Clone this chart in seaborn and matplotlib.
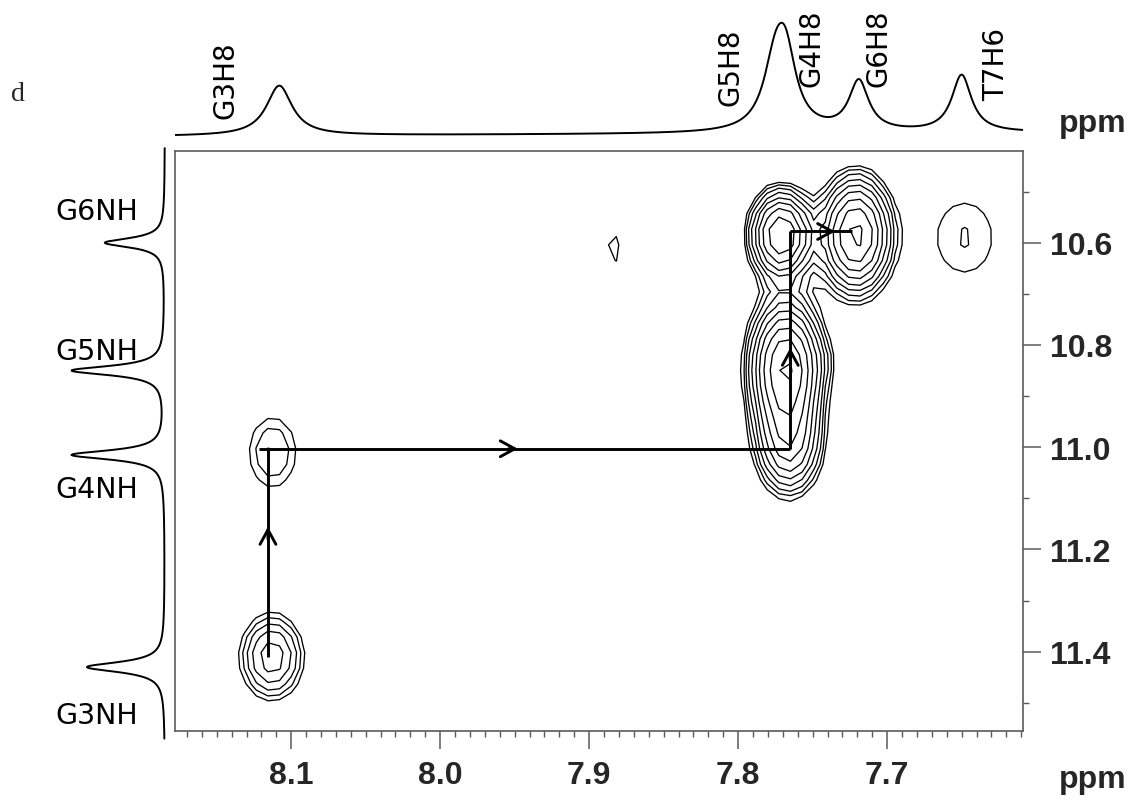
import numpy as np
import pandas as pd
import matplotlib
matplotlib.use("Agg")
import matplotlib.pyplot as plt
from matplotlib.ticker import MultipleLocator
import seaborn as sns

# ---------------------------------------------------------------------------
# Spectral window (ppm)
# ---------------------------------------------------------------------------
x_window = (8.178, 7.609)      # aromatic H8/H6 dimension (F2)
y_window = (10.42, 11.555)     # imino NH dimension (F1)

# 1D projection along the aromatic dimension
top_peak_names = ["G3H8", "G5H8", "G4H8", "G6H8", "T7H6"]
top_peak_ppm = [8.108, 7.775, 7.768, 7.719, 7.650]
top_peak_height = [50, 63, 63, 50, 57]
top_peak_fwhm = [0.021, 0.019, 0.017, 0.016, 0.016]
top_baseline = (14.5, 18.0)    # baseline level at left / right edge

# 1D projection along the imino dimension
left_peak_names = ["G6NH", "G5NH", "G4NH", "G3NH"]
left_peak_ppm = [10.600, 10.850, 11.015, 11.430]
left_peak_height = [60, 93, 93, 78]
left_peak_fwhm = [0.022, 0.022, 0.022, 0.024]
left_baseline = 10.0

# NOE cross peaks: (H8/H6 shift, NH shift, amplitude, x width, y width)
cross_x = [8.113, 8.1125, 7.766, 7.768, 7.771, 7.721, 7.648, 7.884, 7.742]
cross_y = [11.410, 11.010, 10.995, 10.845, 10.585, 10.585, 10.590, 10.610, 10.830]
cross_amp = [3.4, 1.75, 5.0, 11.0, 8.3, 8.8, 1.34, 1.10, 0.5]
cross_sx = [0.014, 0.0147, 0.013, 0.0135, 0.012, 0.0135, 0.024, 0.011, 0.006]
cross_sy = [0.055, 0.064, 0.060, 0.075, 0.050, 0.065, 0.089, 0.068, 0.030]
contour_base = 1.0
contour_factor = 1.3
n_contours = 11

# Sequential walk G3 -> G4 -> G5 -> G6 (segments and arrow-head positions)
walk_segments = [
    ((8.1156, 11.410), (8.1156, 11.003)),
    ((8.1213, 11.003), (7.7650, 11.003)),
    ((7.7650, 11.003), (7.7650, 10.578)),
    ((7.7650, 10.578), (7.7235, 10.578)),
]
walk_heads = [
    ((8.1156, 11.185), (8.1156, 11.150)),
    ((7.9560, 11.003), (7.9460, 11.003)),
    ((7.7650, 10.835), (7.7650, 10.800)),
    ((7.7420, 10.578), (7.7330, 10.578)),
]


def lorentz_sum(axis, centers, heights, fwhms, base):
    out = np.array(base, dtype=float) * np.ones_like(axis)
    for c, h, w in zip(centers, heights, fwhms):
        hw = w / 2.0
        out += h * hw ** 2 / ((axis - c) ** 2 + hw ** 2)
    return out


W, H = 1134, 803


def fx(px):
    return px / W


def fy(py):
    return 1 - py / H


sns.set_theme(style="white")
plt.rcParams["font.family"] = ["DejaVu Sans"]

fig = plt.figure(figsize=(W / 100, H / 100), dpi=100)
left_px, right_px, top_px, bottom_px = 175, 1022.7, 151.7, 732
ax = fig.add_axes([fx(left_px), fy(bottom_px), fx(right_px) - fx(left_px),
                   fy(top_px) - fy(bottom_px)])
ax_top = fig.add_axes([fx(left_px), fy(top_px), fx(right_px) - fx(left_px), 140 / H],
                      sharex=ax)
ax_left = fig.add_axes([fx(40), fy(bottom_px), 135 / W, fy(top_px) - fy(bottom_px)],
                       sharey=ax)

# ---------------------------------------------------------------------------
# 2D contour map (coarse digital resolution, as acquired)
# ---------------------------------------------------------------------------
gx = np.linspace(x_window[0], x_window[1], 74)
gy = np.linspace(y_window[0], y_window[1], 38)
X, Y = np.meshgrid(gx, gy)
Z = np.zeros_like(X)
for cx, cy, a, sx, sy in zip(cross_x, cross_y, cross_amp, cross_sx, cross_sy):
    Z += a * np.exp(-0.5 * ((X - cx) / sx) ** 2 - 0.5 * ((Y - cy) / sy) ** 2)
levels = contour_base * contour_factor ** np.arange(n_contours)
ax.contour(X, Y, Z, levels=levels, colors="black", linewidths=0.95)

for (p0, p1) in walk_segments:
    ax.plot([p0[0], p1[0]], [p0[1], p1[1]], color="black", lw=2.1,
            solid_capstyle="butt", zorder=5)
for tail, head in walk_heads:
    ax.annotate("", xy=head, xytext=tail,
                arrowprops=dict(arrowstyle="->,head_length=0.55,head_width=0.3",
                                lw=2.1, color="black", mutation_scale=19),
                zorder=6)

ax.set_xlim(*x_window)
ax.set_ylim(y_window[1], y_window[0])

frame_col = "#5a5a5a"
for side, sp in ax.spines.items():
    sp.set_visible(True)
    sp.set_color(frame_col)
    sp.set_linewidth(1.2)

ax.yaxis.tick_right()
ax.xaxis.tick_bottom()
ax.xaxis.set_major_locator(MultipleLocator(0.1))
ax.xaxis.set_minor_locator(MultipleLocator(0.01))
ax.yaxis.set_major_locator(MultipleLocator(0.2))
ax.yaxis.set_minor_locator(MultipleLocator(0.1))
ax.xaxis.set_major_formatter(plt.FuncFormatter(lambda v, p: f"{v:.1f}"))
ax.yaxis.set_major_formatter(plt.FuncFormatter(lambda v, p: f"{v:.1f}"))
ax.tick_params(axis="both", which="major", direction="out", length=13, width=1.1,
               color=frame_col, labelsize=23)
ax.tick_params(axis="both", which="minor", direction="out", length=4.5, width=1.0,
               color=frame_col)
ax.tick_params(axis="x", which="both", top=False, bottom=True, pad=8)
ax.tick_params(axis="y", which="both", left=False, right=True, pad=7)
for lab in ax.get_xticklabels() + ax.get_yticklabels():
    lab.set_fontfamily("Liberation Sans")
    lab.set_fontweight("bold")
ax.set_xlabel("")
ax.set_ylabel("")

# ---------------------------------------------------------------------------
# Top 1D trace
# ---------------------------------------------------------------------------
tx = np.linspace(x_window[0], x_window[1], 900)
tbase = np.interp(tx, [x_window[1], x_window[0]], [top_baseline[1], top_baseline[0]])
ty = lorentz_sum(tx, top_peak_ppm, top_peak_height, top_peak_fwhm, tbase)
sns.lineplot(x=tx, y=ty, ax=ax_top, color="black", lw=1.4, estimator=None)
ax_top.set_ylim(0, 140)
ax_top.axis("off")

top_label_ppm = [8.144, 7.805, 7.751, 7.706, 7.627]
top_label_base = [33, 46, 65, 65, 51]
for name, xp, yb in zip(top_peak_names, top_label_ppm, top_label_base):
    ax_top.text(xp, yb, name, rotation=90, ha="center", va="bottom",
                fontsize=20, family="DejaVu Sans", color="black")

# ---------------------------------------------------------------------------
# Left 1D trace
# ---------------------------------------------------------------------------
ly = np.linspace(10.415, 11.57, 900)
lx = lorentz_sum(ly, left_peak_ppm, left_peak_height, left_peak_fwhm, left_baseline)
sns.lineplot(x=lx, y=ly, ax=ax_left, color="black", lw=1.4, orient="y",
             estimator=None, sort=False)
for ln in ax_left.lines:
    ln.set_clip_on(False)
ax_left.set_xlim(135, 0)
ax_left.axis("off")

left_label_px = [212, 352, 490, 716]
for name, py in zip(left_peak_names, left_label_px):
    fig.text(fx(97), fy(py), name, ha="center", va="center", fontsize=20.5,
             family="DejaVu Sans", color="black")

# axis unit labels and panel letter
fig.text(fx(1093), fy(788), "ppm", ha="center", va="baseline", fontsize=23,
         fontweight="bold", family="Liberation Sans")
fig.text(fx(1093), fy(132), "ppm", ha="center", va="baseline", fontsize=23,
         fontweight="bold", family="Liberation Sans")
fig.text(fx(18), fy(101), "d", ha="center", va="baseline", fontsize=20,
         family="Liberation Serif")

fig.savefig("out.png", dpi=100, facecolor="white")
